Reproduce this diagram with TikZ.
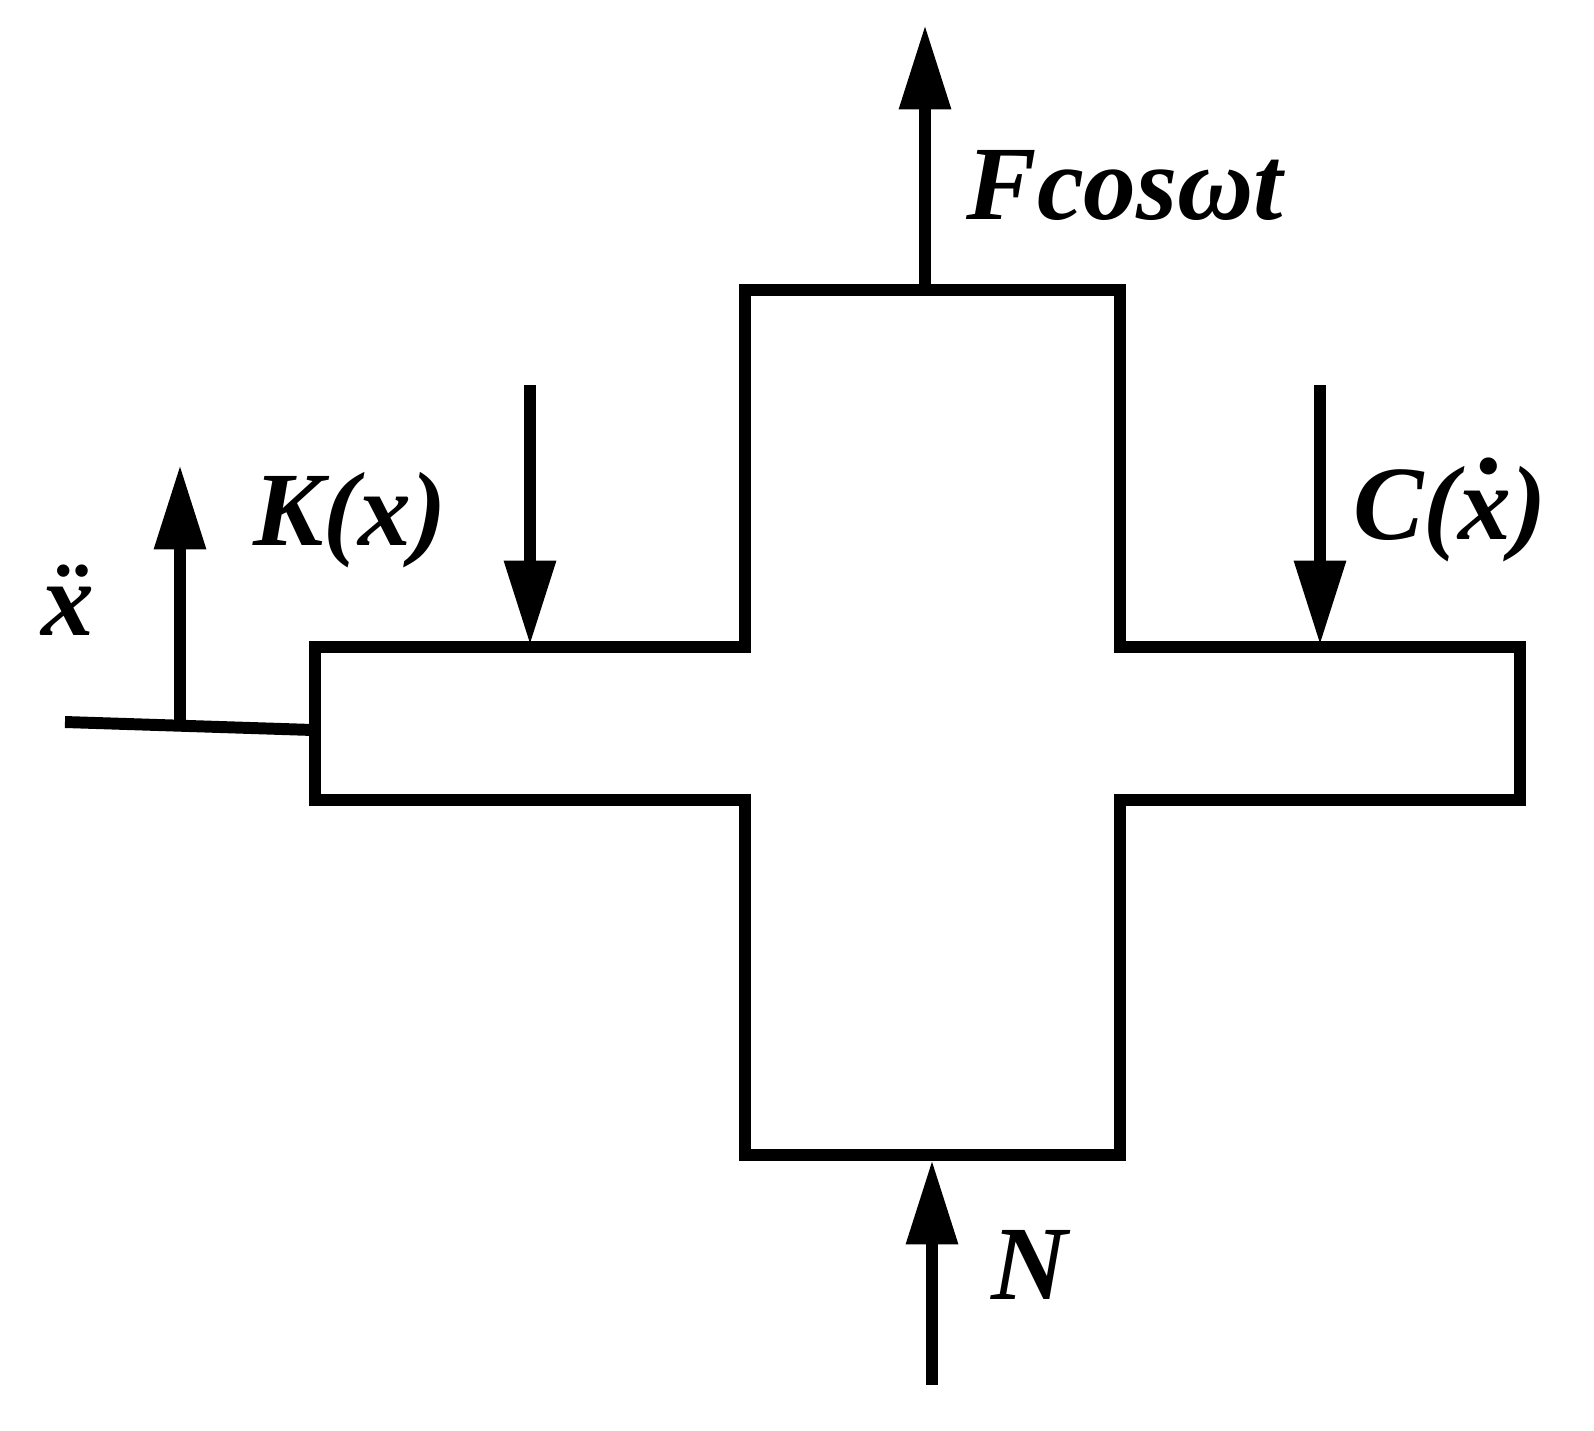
\documentclass[tikz,border=0pt]{standalone}
\usepackage{fontspec}
\setmainfont{Liberation Serif}
\usetikzlibrary{arrows.meta}
\tikzset{
  body/.style={line width=3.4pt, line join=miter},
  force/.style={line width=3.4pt, -{Triangle[length=24pt,width=14pt]}},
  lab/.style={font=\fontsize{30}{30}\selectfont\bfseries\itshape, inner sep=0pt}
}
\begin{document}
\begin{tikzpicture}[x=0.01cm,y=-0.01cm]
\useasboundingbox (0,0) rectangle (1594,1430);
% cross shaped body
\draw [body] (745,290) -- (1120,290) -- (1120,647) -- (1520,647) -- (1520,800)
  -- (1120,800) -- (1120,1155) -- (745,1155) -- (745,800) -- (315,800)
  -- (315,647) -- (745,647) -- cycle;
\coordinate (top) at (925,290);
\coordinate (topend) at (925,25);
\coordinate (bot) at (932,1385);
\coordinate (botend) at (932,1160);
\coordinate (kstart) at (530,385);
\coordinate (kend) at (530,645);
\coordinate (cstart) at (1320,385);
\coordinate (cend) at (1320,645);
\coordinate (wall) at (313,730);
\coordinate (free) at (65,722);
\coordinate (abase) at (180,722);
\coordinate (aend) at (180,465);
% forces
\draw [force] (top) -- (topend);
\draw [force] (bot) -- (botend);
\draw [force] (kstart) -- (kend);
\draw [force] (cstart) -- (cend);
\draw [line width=3.4pt] (free) -- (wall);
\draw [force] (abase) -- (aend);
% labels
\node [lab] (lF) at (1125,185) {Fcosωt};
\node [lab] (lK) at (350,520) {K(x)};
\node [lab] (lC) at (1450,510) {C(\makebox[0pt][l]{\hspace{0.2em}\raisebox{0.62em}{.}}x)};
\node [lab] (lA) at (68,600) {\"{x}};
\node [lab] (lN) at (1030,1265) {N};
\end{tikzpicture}
\end{document}
